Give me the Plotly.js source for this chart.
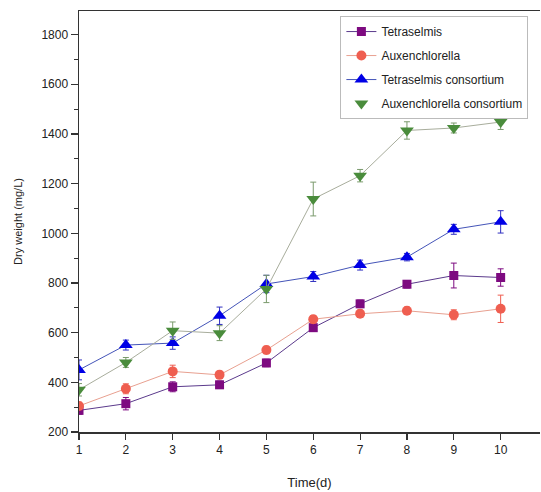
<!DOCTYPE html>
<html>
<head>
<meta charset="utf-8">
<script src="https://cdn.plot.ly/plotly-3.0.1.min.js"></script>
<style>html,body{margin:0;padding:0;background:#fff;overflow:hidden;}#chart{width:541px;height:492px;}</style>
</head>
<body>
<div id="chart"></div>
<script>
var days = [1, 2, 3, 4, 5, 6, 7, 8, 9, 10];
var tetraselmis = [287, 314, 382, 390, 478, 620, 716, 795, 830, 822];
var tetraselmisErr = [15, 25, 20, 15, 15, 15, 15, 15, 50, 35];
var auxenchlorella = [305, 374, 444, 430, 530, 654, 676, 688, 672, 696];
var auxenchlorellaErr = [15, 20, 25, 15, 15, 15, 15, 15, 20, 55];
var tetraCons = [450, 550, 558, 668, 796, 826, 872, 904, 1016, 1046];
var tetraConsErr = [40, 20, 25, 35, 35, 20, 20, 15, 20, 45];
var auxenCons = [370, 480, 608, 598, 776, 1138, 1232, 1414, 1424, 1448];
var auxenConsErr = [25, 20, 35, 30, 55, 68, 25, 35, 20, 30];
var seriesNames = ['Tetraselmis', 'Auxenchlorella', 'Tetraselmis consortium', 'Auxenchlorella consortium'];

function errObj(arr, color) {
  return {type: 'data', array: arr, visible: true, color: color, thickness: 1, width: 3};
}

var traces = [
  {x: days, y: tetraselmis, name: seriesNames[0], mode: 'lines+markers', legendgroup: 'a',
   line: {color: '#5b3a8c', width: 1},
   marker: {symbol: 'square', size: 9, color: '#7d0a80'},
   error_y: errObj(tetraselmisErr, '#7d0a80')},
  {x: days, y: auxenchlorella, name: seriesNames[1], mode: 'lines+markers', legendgroup: 'b',
   line: {color: '#e8a090', width: 1},
   marker: {symbol: 'circle', size: 10, color: '#ef5e50'},
   error_y: errObj(auxenchlorellaErr, '#ef5e50')},
  {x: days, y: tetraCons, name: seriesNames[2], mode: 'lines+markers', legendgroup: 'c',
   line: {color: '#4454b8', width: 1},
   marker: {symbol: 'triangle-up', size: 12, color: '#0000e6'},
   error_y: errObj(tetraConsErr, '#3030c0')},
  {x: days, y: auxenCons, name: seriesNames[3], mode: 'lines', legendgroup: 'd', showlegend: false,
   line: {color: '#a8ad9c', width: 1}, hoverinfo: 'skip'},
  {x: days, y: auxenCons, name: seriesNames[3], mode: 'markers', legendgroup: 'd',
   marker: {symbol: 'triangle-down', size: 12, color: '#4a8c3c'},
   error_y: errObj(auxenConsErr, '#7a9a6c')}
];

var layout = {
  width: 541, height: 492,
  margin: {l: 79, r: 1, t: 11, b: 60},
  paper_bgcolor: '#fff', plot_bgcolor: '#fff',
  font: {family: 'Liberation Sans, Arial, sans-serif', color: '#222'},
  showlegend: true,
  legend: {x: 0.567, y: 0.988, xanchor: 'left', yanchor: 'top',
    bordercolor: '#bbb', borderwidth: 1, bgcolor: '#fff',
    font: {size: 12, color: '#222'}, tracegroupgap: 5, traceorder: 'grouped'},
  xaxis: {
    range: [1, 10.84], tickvals: days, ticks: 'outside', ticklen: 6, tickwidth: 1.2,
    tickcolor: '#333', showline: true, linecolor: '#333', linewidth: 1.5, mirror: true,
    showgrid: false, zeroline: false, tickfont: {size: 12, color: '#222'},
    title: {text: 'Time(d)', font: {size: 13, color: '#222'}, standoff: 22}
  },
  yaxis: {
    range: [200, 1895], tickvals: [200, 400, 600, 800, 1000, 1200, 1400, 1600, 1800],
    ticks: 'outside', ticklen: 7, tickwidth: 1.2, tickcolor: '#333',
    minor: {tickvals: [300, 500, 700, 900, 1100, 1300, 1500, 1700], ticks: 'outside', ticklen: 4, tickcolor: '#333', tickwidth: 1.2},
    showline: true, linecolor: '#333', linewidth: 1.5, showgrid: false, zeroline: false, mirror: false,
    tickfont: {size: 12, color: '#222'},
    title: {text: 'Dry weight (mg/L)', font: {size: 11, color: '#222'}, standoff: 16}
  }
};

Plotly.newPlot('chart', traces, layout, {displayModeBar: false, staticPlot: true});
</script>
</body>
</html>
